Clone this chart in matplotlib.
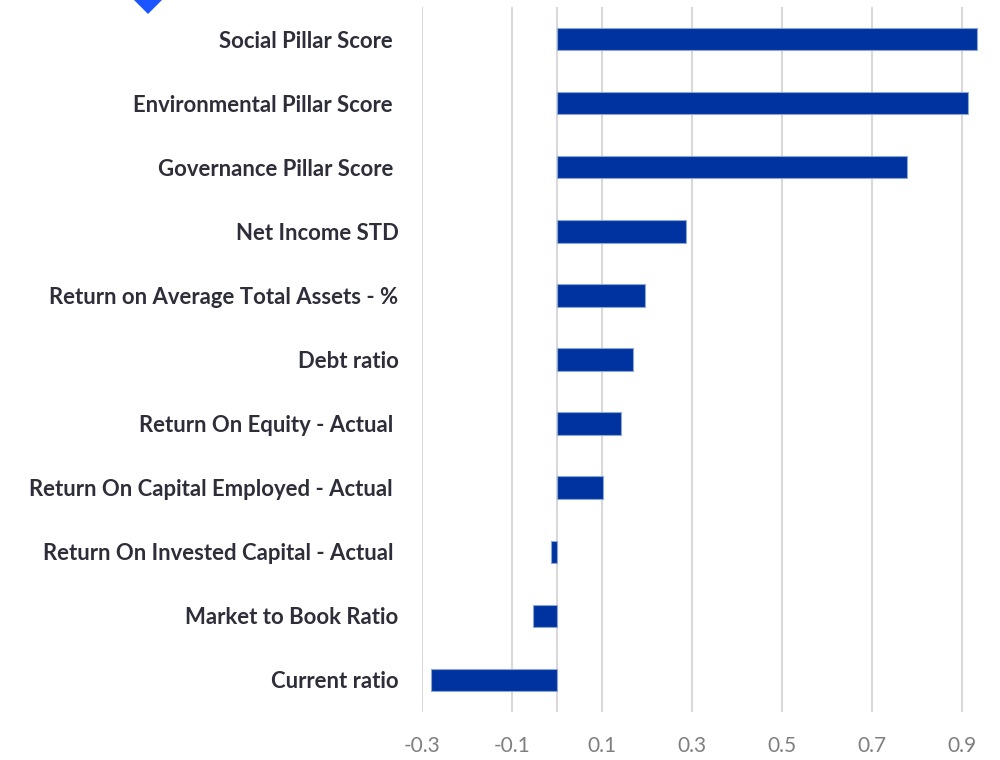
import matplotlib.pyplot as plt
from matplotlib.patches import Polygon

# variables, bottom-to-top order as drawn
features = [
    "Current ratio",
    "Market to Book Ratio",
    "Return On Invested Capital - Actual ",
    "Return On Capital Employed - Actual ",
    "Return On Equity - Actual ",
    "Debt ratio",
    "Return on Average Total Assets - %",
    "Net Income STD",
    "Governance Pillar Score ",
    "Environmental Pillar Score ",
    "Social Pillar Score ",
]
values = [-0.28, -0.053, -0.013, 0.102, 0.142, 0.169, 0.196, 0.287, 0.778, 0.913, 0.933]

tick_values = [-0.3, -0.1, 0.1, 0.3, 0.5, 0.7, 0.9]
tick_labels = ["-0.3", "-0.1", "0.1", "0.3", "0.5", "0.7", "0.9"]

plt.rcParams["font.family"] = ["Lato", "DejaVu Sans"]

fig = plt.figure(figsize=(10, 7.6), dpi=100)
ax = fig.add_axes([0.422, 0.0632, 0.5805, 0.9276])

# gridlines
for x in tick_values + [0]:
    ax.axvline(x, color="#d9d9d9", linewidth=1.5, zorder=0)

ax.barh(range(len(features)), values, height=0.35, color="#0033a0",
        edgecolor="#8ea6d6", linewidth=0.8, zorder=2)

ax.set_xlim(-0.3, 0.99)
ax.set_ylim(-0.5, len(features) - 0.5)

ax.set_xticks(tick_values)
ax.set_xticklabels(tick_labels, color="#7f7f7f", fontsize=15)
ax.set_yticks(range(len(features)))
ax.set_yticklabels(features, color="#2e2e3a", fontsize=15.9, fontweight="bold")
ax.tick_params(axis="x", length=0, pad=17)
ax.tick_params(axis="y", length=0, pad=17)

for s in ax.spines.values():
    s.set_visible(False)

# blue diamond marker cut at the top edge
fig.patches.append(Polygon([(148, 760 + 14), (162, 760), (148, 760 - 14), (134, 760)],
                           closed=True, transform=None, facecolor="#1a55ff",
                           edgecolor="none"))

fig.savefig("out.png", dpi=100)
